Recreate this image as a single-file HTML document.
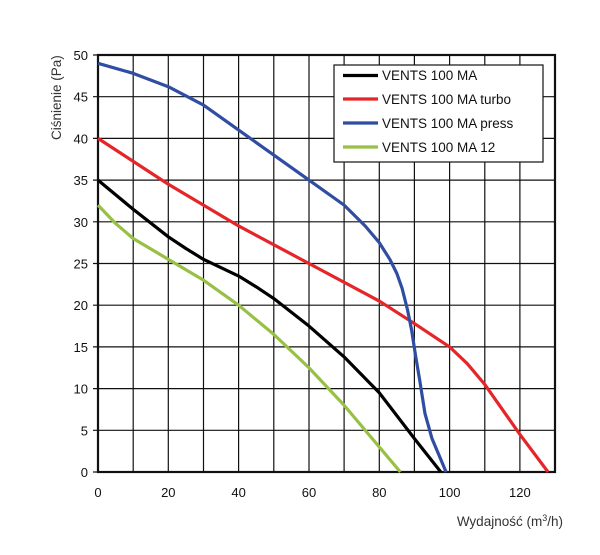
<!DOCTYPE html>
<html><head><meta charset="utf-8"><style>
body{margin:0;background:#fff;}
svg{display:block;font-family:"Liberation Sans",sans-serif;}
</style></head><body>
<svg width="600" height="555" viewBox="0 0 600 555">
<rect width="600" height="555" fill="#fff"/>
<g stroke="#111" stroke-width="1.2">
<line x1="133.2" y1="55" x2="133.2" y2="472"/><line x1="168.3" y1="55" x2="168.3" y2="472"/>
<line x1="203.5" y1="55" x2="203.5" y2="472"/><line x1="238.6" y1="55" x2="238.6" y2="472"/>
<line x1="273.8" y1="55" x2="273.8" y2="472"/><line x1="309" y1="55" x2="309" y2="472"/>
<line x1="344.1" y1="55" x2="344.1" y2="472"/><line x1="379.3" y1="55" x2="379.3" y2="472"/>
<line x1="414.4" y1="55" x2="414.4" y2="472"/><line x1="449.6" y1="55" x2="449.6" y2="472"/>
<line x1="484.8" y1="55" x2="484.8" y2="472"/><line x1="519.9" y1="55" x2="519.9" y2="472"/>
<line x1="93" y1="96.7" x2="555" y2="96.7"/><line x1="93" y1="138.4" x2="555" y2="138.4"/>
<line x1="93" y1="180.1" x2="555" y2="180.1"/><line x1="93" y1="221.8" x2="555" y2="221.8"/>
<line x1="93" y1="263.5" x2="555" y2="263.5"/><line x1="93" y1="305.2" x2="555" y2="305.2"/>
<line x1="93" y1="346.9" x2="555" y2="346.9"/><line x1="93" y1="388.6" x2="555" y2="388.6"/>
<line x1="93" y1="430.3" x2="555" y2="430.3"/>
<line x1="93" y1="55" x2="98" y2="55"/>
<line x1="93" y1="472" x2="98" y2="472"/>
</g>
<rect x="98" y="55" width="457" height="417" fill="none" stroke="#111" stroke-width="2.2"/>
<g font-size="13" fill="#111" text-anchor="end">
<text x="88" y="60">50</text><text x="88" y="101.7">45</text><text x="88" y="143.4">40</text>
<text x="88" y="185.1">35</text><text x="88" y="226.8">30</text><text x="88" y="268.5">25</text>
<text x="88" y="310.2">20</text><text x="88" y="351.9">15</text><text x="88" y="393.6">10</text>
<text x="88" y="435.3">5</text><text x="88" y="477">0</text>
</g>
<g font-size="13" fill="#111" text-anchor="middle">
<text x="98" y="497">0</text><text x="168.3" y="497">20</text><text x="238.6" y="497">40</text>
<text x="309" y="497">60</text><text x="379.3" y="497">80</text><text x="449.6" y="497">100</text>
<text x="519.9" y="497">120</text>
</g>
<text x="563" y="526" font-size="13.5" fill="#333" text-anchor="end">Wydajność (m<tspan font-size="9" dy="-5">3</tspan><tspan dy="5">/h)</tspan></text>
<text transform="translate(61,140) rotate(-90)" font-size="13.5" fill="#333">Ciśnienie (Pa)</text>
<g transform="translate(98,472) scale(3.516,-8.34)" fill="none" stroke-width="3.2" stroke-linejoin="round" stroke-linecap="butt">
<polyline vector-effect="non-scaling-stroke" stroke="#97c045" points="0,32 5,29.8 10,28 20,25.5 30,23 40,20 50,16.5 60,12.5 70,8 80,3 86,0"/>
<polyline vector-effect="non-scaling-stroke" stroke="#e52528" points="0,40 20,34.5 40,29.5 60,25 80,20.5 90,17.8 100,15 105,13 110,10.5 115,7.5 120,4.5 128,0"/>
<polyline vector-effect="non-scaling-stroke" stroke="#2f4ea3" points="0,49 10,47.8 20,46.2 30,44 40,41 50,38 60,35 70,32 76,29.5 80,27.5 83,25.5 85,23.8 86.5,22 88,19.5 89.2,17 90.3,14 91.5,11 93,7 95,4 99,0"/>
<polyline vector-effect="non-scaling-stroke" stroke="#000" points="0,35 10,31.5 20,28.2 25,26.8 30,25.5 40,23.5 45,22.2 50,20.8 60,17.5 70,13.8 80,9.5 90,4 97.5,0"/>
</g>
<rect x="334" y="65" width="209" height="97" fill="#fff" stroke="#111" stroke-width="1.2"/>
<g stroke-width="3.2">
<line x1="343" y1="75.5" x2="378" y2="75.5" stroke="#000"/>
<line x1="343" y1="99" x2="378" y2="99" stroke="#e52528"/>
<line x1="343" y1="123" x2="378" y2="123" stroke="#2f4ea3"/>
<line x1="343" y1="147" x2="378" y2="147" stroke="#97c045"/>
</g>
<g font-size="13.5" fill="#111">
<text x="382" y="80">VENTS 100 MA</text>
<text x="382" y="104">VENTS 100 MA turbo</text>
<text x="382" y="128">VENTS 100 MA press</text>
<text x="382" y="152">VENTS 100 MA 12</text>
</g>
</svg>
</body></html>
